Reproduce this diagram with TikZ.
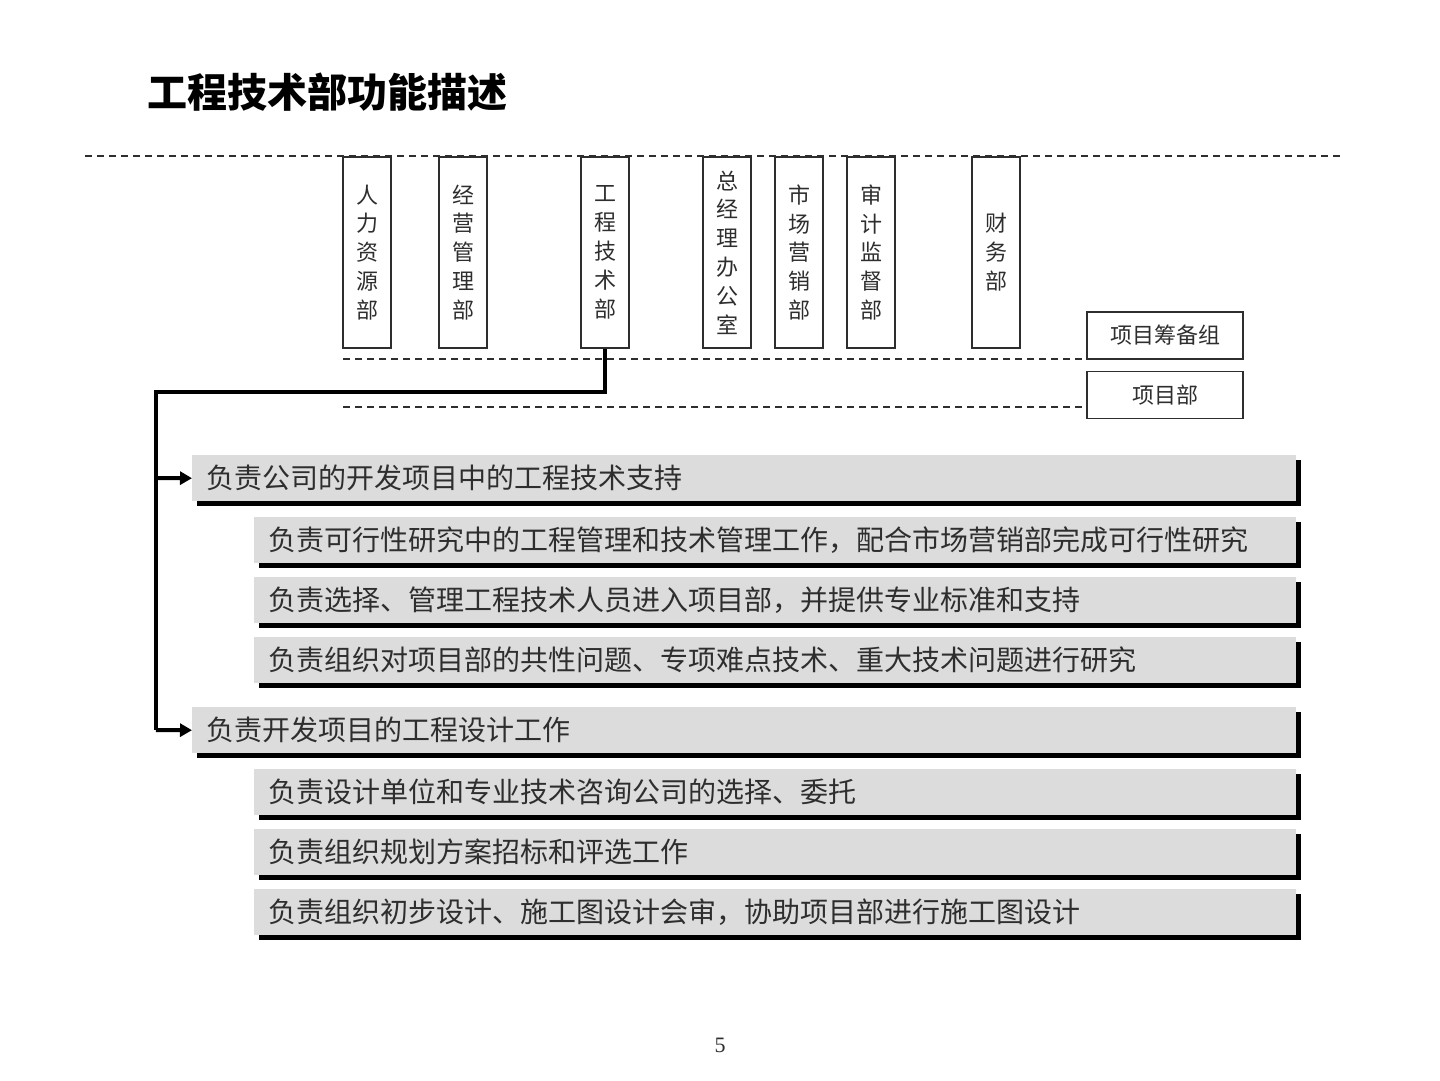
\documentclass[tikz,border=0pt]{standalone}
\usepackage{fontspec}
\setmainfont{Noto Sans CJK SC}
\newfontfamily\serifnum{Liberation Serif}
\usetikzlibrary{shadows,arrows.meta}
\definecolor{ink}{HTML}{2E2E2E}
\definecolor{barfill}{HTML}{DCDCDC}
\begin{document}
\begin{tikzpicture}[x=1pt,y=-1pt,
  dept/.style={draw=ink,line width=1.8pt,minimum width=48pt,minimum height=191pt,inner sep=0pt,anchor=north,align=center,font=\fontsize{22}{28.8}\selectfont,text=ink},
  projbox/.style={draw=ink,line width=1.8pt,minimum width=156pt,minimum height=47pt,inner sep=0pt,font=\fontsize{22}{24}\selectfont,text=ink},
  dashline/.style={draw=ink,line width=1.4pt,dash pattern=on 7pt off 5pt},
  conn/.style={draw=black,line width=4pt,line join=miter},
  arr/.style={draw=black,line width=4pt,-{Triangle[length=12pt,width=13pt]}},
  bar/.style={fill=barfill,minimum height=46pt,anchor=north west,inner xsep=14pt,inner ysep=0pt,align=left,text=ink,font=\fontsize{28}{30}\selectfont,general shadow={fill=black,shadow xshift=5pt,shadow yshift=-5pt}},
  mainbar/.style={bar,text width=1076pt},
  subbar/.style={bar,text width=1014pt}
]
\useasboundingbox[fill=white] (0,0) rectangle (1440,1080);

% title
\node[anchor=west,font=\fontsize{40}{44}\selectfont\bfseries,text=black,inner sep=0pt] (title) at (147,92) {工程技术部功能描述};

% dashed guide lines
\coordinate (d1s) at (85,156);
\coordinate (d1e) at (1340,156);
\draw[dashline] (d1s) -- (d1e);

% departments
\node[dept] (hr)   at (367,156) {人\\力\\资\\源\\部};
\node[dept] (op)   at (463,156) {经\\营\\管\\理\\部};
\node[dept] (tech) at (605,156) {工\\程\\技\\术\\部};
\node[dept] (gm)   at (727,156) {总\\经\\理\\办\\公\\室};
\node[dept] (mkt)  at (799,156) {市\\场\\营\\销\\部};
\node[dept] (aud)  at (871,156) {审\\计\\监\\督\\部};
\node[dept] (fin)  at (996,156) {财\\务\\部};

% project boxes
\node[projbox] (pb1) at (1165,335.5) {项目筹备组};
\node[projbox] (pb2) at (1165,395) {项目部};

\coordinate (d2s) at (343,359);
\coordinate (d3s) at (343,407);
\draw[dashline] (d2s) -- (d2s -| pb1.west);
\draw[dashline] (d3s) -- (d3s -| pb2.west);

% bars
\node[mainbar] (b1) at (192,455) {负责公司的开发项目中的工程技术支持};
\node[subbar]  (b2) at (254,517) {负责可行性研究中的工程管理和技术管理工作，配合市场营销部完成可行性研究};
\node[subbar]  (b3) at (254,577) {负责选择、管理工程技术人员进入项目部，并提供专业标准和支持};
\node[subbar]  (b4) at (254,637) {负责组织对项目部的共性问题、专项难点技术、重大技术问题进行研究};
\node[mainbar] (b5) at (192,707) {负责开发项目的工程设计工作};
\node[subbar]  (b6) at (254,769) {负责设计单位和专业技术咨询公司的选择、委托};
\node[subbar]  (b7) at (254,829) {负责组织规划方案招标和评选工作};
\node[subbar]  (b8) at (254,889) {负责组织初步设计、施工图设计会审，协助项目部进行施工图设计};

% connectors
\coordinate (turn) at (156,392);
\coordinate (j1) at (156,478);
\coordinate (j2) at (156,730);
\draw[conn] (tech.south) |- (turn) -- (j2);
\draw[arr] (j1) -- (b1.west);
\draw[arr] (j2) -- (b5.west);

% page number
\node[font=\serifnum\fontsize{22}{24}\selectfont,text=ink] (pg) at (720,1045) {5};
\end{tikzpicture}
\end{document}
